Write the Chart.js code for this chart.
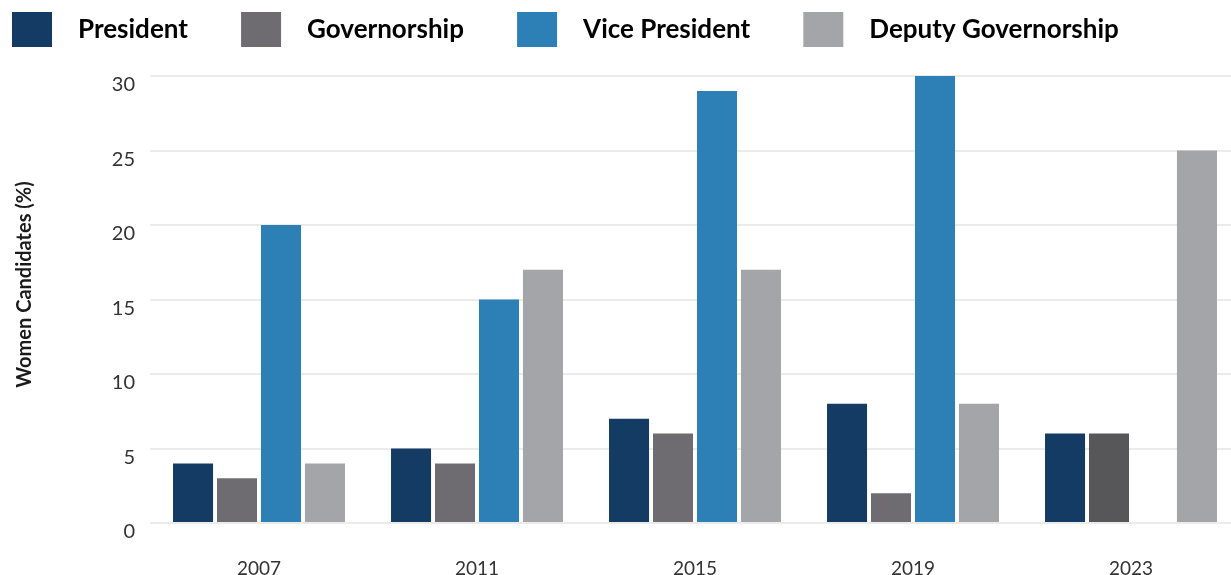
<!DOCTYPE html>
<html>
<head>
<meta charset="utf-8">
<script src="https://cdn.jsdelivr.net/npm/chart.js@4/dist/chart.umd.min.js"></script>
<style>
  html, body { margin: 0; padding: 0; background: #fff; overflow: hidden; }
  #wrap { width: 1240px; height: 575px; }
</style>
</head>
<body>
<div id="wrap"><canvas id="womenChart" width="1240" height="575"></canvas></div>
<script>
const years = ['2007', '2011', '2015', '2019', '2023'];
const president = [4, 5, 7, 8, 6];
const governorship = [3, 4, 6, 2, 6];
const vicePresident = [20, 15, 29, 30, 0];
const deputyGovernorship = [4, 17, 17, 8, 25];
const yTicks = [0, 5, 10, 15, 20, 25, 30];

Chart.defaults.font.family = 'Lato, "Noto Sans", sans-serif';
Chart.defaults.color = '#333';

// push the plot area down a bit under the legend
const legendGap = {
    id: 'legendGap',
    beforeInit(chart) {
        const fit = chart.legend.fit;
        chart.legend.fit = function () {
            fit.bind(chart.legend)();
            this.height += 19;
        };
    }
};

function plotWomenChart() {
    new Chart(
        document.getElementById('womenChart'),
        {
            type: 'bar',
            data: {
                labels: years,
                datasets: [
                    {
                        label: 'President',
                        data: president,
                        backgroundColor: '#143b63'
                    }, {
                        label: 'Governorship',
                        data: governorship,
                        backgroundColor: ['#6e6c70', '#6e6c70', '#6e6c70', '#6e6c70', '#575659']
                    }, {
                        label: 'Vice President',
                        data: vicePresident,
                        backgroundColor: '#2c80b6'
                    }, {
                        label: 'Deputy Governorship',
                        data: deputyGovernorship,
                        backgroundColor: '#a4a5a8'
                    }
                ]
            },
            options: {
                responsive: false,
                animation: false,
                barPercentage: 0.91,
                categoryPercentage: 0.807,
                layout: { padding: 0 },
                plugins: {
                    tooltip: { enabled: false },
                    legend: {
                        position: 'top',
                        align: 'start',
                        labels: {
                            boxWidth: 40,
                            boxHeight: 35,
                            padding: 12,
                            color: '#1a1a1a',
                            font: { size: 26, weight: 'bold' },
                            generateLabels: function (chart) {
                                // spaces widen the gaps, like the original legend
                                return chart.data.datasets.map((ds, i) => ({
                                    text: '\u2002' + ds.label + '\u2003\u2002\u2004',
                                    fillStyle: i === 1 ? '#6e6c70' : ds.backgroundColor,
                                    strokeStyle: 'rgba(0,0,0,0)',
                                    lineWidth: 0,
                                    hidden: false,
                                    datasetIndex: i
                                }));
                            }
                        }
                    }
                },
                scales: {
                    x: {
                        grid: { display: false, drawTicks: false },
                        border: { display: false },
                        ticks: { padding: 34, font: { size: 19 }, color: '#333' },
                        afterFit: function (scale) { scale.height = 52; }
                    },
                    y: {
                        min: 0,
                        max: 30,
                        afterBuildTicks: function (scale) {
                            scale.ticks = yTicks.map(v => ({ value: v }));
                        },
                        grid: { color: '#ebebeb', lineWidth: 2, drawTicks: false },
                        border: { display: false },
                        ticks: { padding: 15, labelOffset: 9, font: { size: 20 }, color: '#333' },
                        title: {
                            display: true,
                            text: '\u2003\u2003Women Candidates (%)',
                            color: '#1a1a1a',
                            font: { size: 20, weight: 'bold' },
                            padding: { top: 13, bottom: 0 }
                        },
                        afterFit: function (scale) { scale.width = 150; }
                    }
                }
            },
            plugins: [legendGap]
        });
}

plotWomenChart();
</script>
</body>
</html>
